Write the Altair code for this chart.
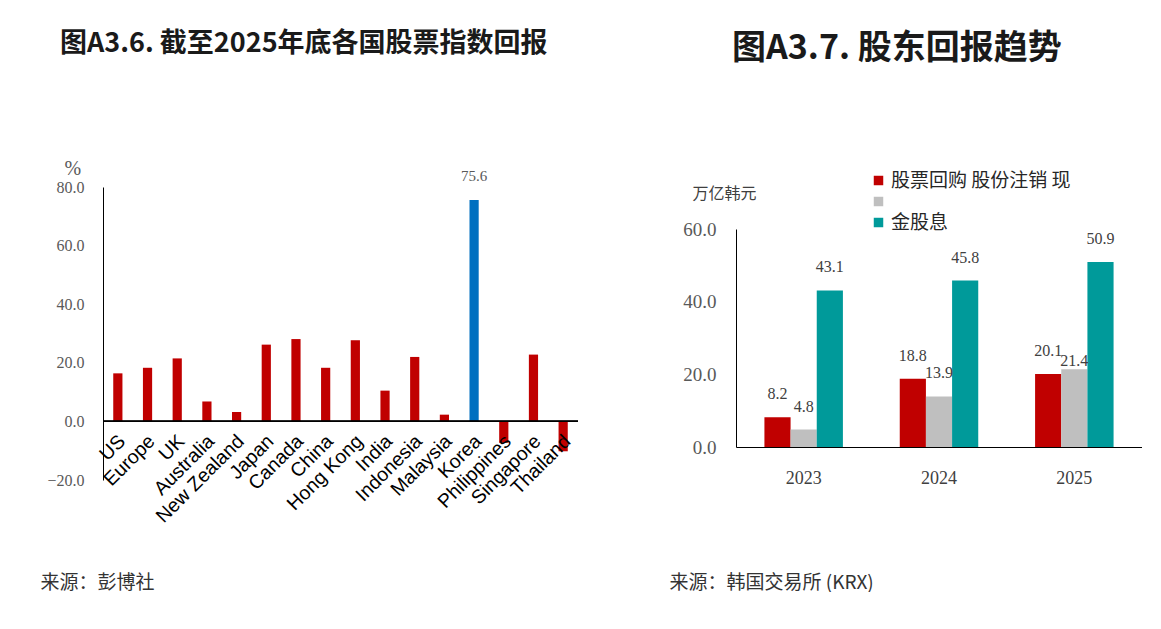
import altair as alt
import pandas as pd

# ---------------- data ----------------
countries = ["US", "Europe", "UK", "Australia", "New Zealand", "Japan", "Canada", "China",
             "Hong Kong", "India", "Indonesia", "Malaysia", "Korea", "Philippines",
             "Singapore", "Thailand"]
returns = [16.4, 18.3, 21.5, 6.8, 3.2, 26.2, 28.1, 18.3, 27.7, 10.5, 22.0, 2.3, 75.6,
           -7.3, 22.8, -10.2]

years = ["2023", "2024", "2025"]
series = ["股票回购", "股份注销", "现金股息"]
buyback = [8.2, 18.8, 20.1]
cancellation = [4.8, 13.9, 21.4]
dividend = [43.1, 45.8, 50.9]

left_ticks = [-20, 0, 20, 40, 60, 80]
right_ticks = [0, 20, 40, 60]

SERIF = "Liberation Serif"
SANS = "Liberation Sans"
CJK = "Noto Sans CJK SC"
RED = "#C00000"
BLUE = "#0070C0"

# ---------------- left chart ----------------
df1 = pd.DataFrame({"country": countries, "ret": returns})
base1 = alt.Chart(df1)

x1 = alt.X(
    "country:N", sort=countries,
    scale=alt.Scale(paddingInner=0.69, paddingOuter=0.345),
    axis=alt.Axis(labels=False, ticks=False, domain=False, title="来源：彭博社",
                  titleX=-63, titleY=102, titleAlign="left", titleBaseline="middle",
                  titleFont=CJK, titleFontSize=19, titleFontWeight="normal",
                  titleColor="#333333"),
)
y1 = alt.Y(
    "ret:Q",
    scale=alt.Scale(domain=[-20, 80], nice=False, zero=False),
    axis=alt.Axis(values=left_ticks, format=".1f", grid=False, ticks=False,
                  domainColor="black", labelFont=SERIF, labelFontSize=16,
                  labelColor="#595959", labelPadding=19, title="%", titleAngle=0,
                  titleX=-39, titleY=-19, titleAlign="left", titleBaseline="middle",
                  titleFont=SERIF, titleFontSize=20, titleFontWeight="normal",
                  titleColor="#595959"),
)

bars1 = base1.mark_bar().encode(
    x=x1, y=y1,
    color=alt.condition(alt.datum.country == "Korea", alt.value(BLUE), alt.value(RED)),
)
zero1 = base1.mark_rule(color="black", strokeWidth=1).encode(y=alt.datum(0))
names1 = base1.mark_text(angle=315, align="right", baseline="middle", dx=-9, dy=15,
                         font=SANS, fontSize=19.5, color="black").encode(
    x=alt.X("country:N", sort=countries), y=alt.datum(0), text="country:N")
korea_lbl = base1.transform_filter(alt.datum.country == "Korea").mark_text(
    dy=-24, font=SERIF, fontSize=15, color="#595959").encode(
    x=alt.X("country:N", sort=countries), y="ret:Q", text=alt.Text("ret:Q", format=".1f"))

left = alt.layer(bars1, zero1, names1, korea_lbl).properties(
    width=475, height=293,
    title=alt.TitleParams("图A3.6. 截至2025年底各国股票指数回报", anchor="start", dx=-43,
                          offset=100, frame="group", font=CJK, fontSize=27,
                          fontWeight="bold", color="#1a1a1a"),
)

# ---------------- right chart ----------------
rows = []
for i, yr in enumerate(years):
    for s, vals in zip(series, [buyback, cancellation, dividend]):
        rows.append({"year": yr, "series": s, "value": vals[i]})
df2 = pd.DataFrame(rows)
base2 = alt.Chart(df2)

x2 = alt.X(
    "year:N", sort=years,
    scale=alt.Scale(paddingInner=0.42, paddingOuter=0.21),
    axis=alt.Axis(labelAngle=0, labelFont=SERIF, labelFontSize=18, labelColor="#404040",
                  labelPadding=22, ticks=False, domainColor="black",
                  title="来源：韩国交易所 (KRX)", titleX=-67, titleY=135, titleAlign="left",
                  titleBaseline="middle", titleFont=CJK, titleFontSize=19,
                  titleFontWeight="normal", titleColor="#333333"),
)
y2 = alt.Y(
    "value:Q",
    scale=alt.Scale(domain=[0, 60], nice=False, range=[260, 42]),
    axis=alt.Axis(values=right_ticks, format=".1f", grid=False, ticks=False,
                  domainColor="black", labelFont=SERIF, labelFontSize=19,
                  labelColor="#595959", labelPadding=20, title="万亿韩元", titleAngle=0,
                  titleX=-44, titleY=6, titleAlign="left", titleBaseline="middle",
                  titleFont=CJK, titleFontSize=16, titleFontWeight="normal",
                  titleColor="#404040"),
)
xo = alt.XOffset("series:N", sort=series)

label_expr = ("datum.label == '股票回购' ? '股票回购 股份注销 现' : "
              "(datum.label == '股份注销' ? '' : '金股息')")
bars2 = base2.mark_bar().encode(
    x=x2, y=y2, xOffset=xo,
    color=alt.Color("series:N", sort=series,
                    scale=alt.Scale(domain=series, range=[RED, "#BFBFBF", "#009A9A"]),
                    legend=alt.Legend(orient="none", legendX=133, legendY=-16, title=None,
                                      symbolType="square", symbolSize=90,
                                      symbolStrokeWidth=0, labelFont=CJK,
                                      labelFontSize=19, labelColor="#262626",
                                      labelLimit=0, labelOffset=3, rowPadding=1,
                                      labelExpr=label_expr)),
)
# data labels (the 2025 share-cancellation label sits lower, as in the original)
is_low = (alt.datum.year == "2025") & (alt.datum.series == "股份注销")
lbl2 = base2.transform_filter(~is_low).mark_text(
    dy=-23, font=SERIF, fontSize=16, color="#404040").encode(
    x=alt.X("year:N", sort=years), y="value:Q", xOffset=xo,
    text=alt.Text("value:Q", format=".1f"))
lbl2b = base2.transform_filter(is_low).mark_text(
    dy=-8, font=SERIF, fontSize=16, color="#404040").encode(
    x=alt.X("year:N", sort=years), y="value:Q", xOffset=xo,
    text=alt.Text("value:Q", format=".1f"))

right = alt.layer(bars2, lbl2, lbl2b).properties(
    width=406, height=260,
    title=alt.TitleParams("图A3.7. 股东回报趋势", anchor="start", dx=-4, offset=105,
                          frame="group", font=CJK, fontSize=34, fontWeight="bold",
                          color="#1a1a1a"),
)

chart = alt.hconcat(left, right, spacing=90).resolve_legend(color="independent").properties(
    padding={"left": 40, "top": 30, "right": 0, "bottom": 0},
    background="white",
).configure_view(stroke=None)

chart.save("out.html", embed_options={"renderer": "svg", "actions": False})
